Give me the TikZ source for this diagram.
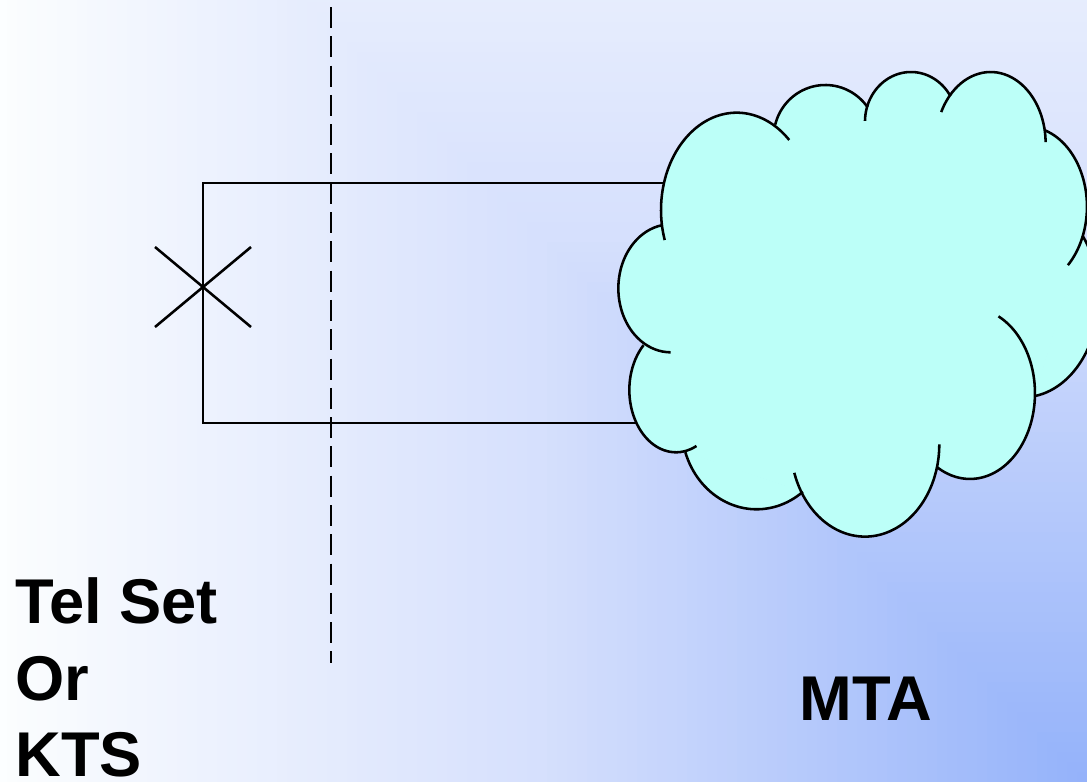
\documentclass[tikz,border=0pt]{standalone}
\usepackage{fontspec}
\setmainfont{Liberation Sans}
\definecolor{cloudcyan}{RGB}{188,255,248}
\tikzset{
 wire/.style={black, line width=1.45pt},
 biglabel/.style={anchor=base west, inner sep=0, font=\fontsize{36}{44}\selectfont\bfseries},
}
\newcommand{\cloudlobes}[1]{
 \foreach \cx/\cy/\rx/\ry/\aa/\ab in {410/480/227/292/314/162, 676/262/155/157/194/325, 933/215/138/149/181/329,
   1172/280/165/214/206/359, 1281/470/180/240/288/407, 1269/742/227/300/322/441, 1110/1030/195/257/296/481,
   795/1183/223/277/0/162, 470/1130/225/248/52/162, 228/1020/140/187/64/226, 212/715/157/192/90/260} {
  \path[#1] plot[domain=\aa:\ab, samples=40, smooth] ({\cx+\rx*cos(\x)},{\cy+\ry*sin(\x)});
 }
}
\begin{document}
\begin{tikzpicture}[x=0.02cm, y=-0.02cm]
\useasboundingbox (0,0) rectangle (1087,782);
\clip (0,0) rectangle (1087,782);
% background bands round the lower right corner
\foreach \d in {1090,1080,...,10} {
 \pgfmathsetmacro{\lowt}{min(\d/550,1)}
 \pgfmathsetmacro{\hight}{max((\d-550)/540,0)}
 \pgfmathtruncatemacro{\bandr}{148+66*\lowt+38*\hight}
 \pgfmathtruncatemacro{\bandg}{178+46*\lowt+30*\hight}
 \pgfmathtruncatemacro{\bandb}{250+3*\lowt+2*\hight}
 \definecolor{bandcol}{RGB}{\bandr,\bandg,\bandb}
 \fill[bandcol] (1087-\d,782-\d) rectangle (1087,782);
}
\coordinate (topleft) at (203,183);
\coordinate (botleft) at (203,423);
\coordinate (topright) at (670,183);
\coordinate (botright) at (640,423);
\coordinate (crossA) at (155,247);
\coordinate (crossB) at (251,327);
\coordinate (crossC) at (155,327);
\coordinate (crossD) at (251,247);
\coordinate (dashtop) at (331,7);
\coordinate (dashbot) at (331,663);
\draw[wire] (topright) -- (topleft) -- (botleft) -- (botright);
\draw[wire] (crossA) -- (crossB);
\draw[wire] (crossC) -- (crossD);
\draw[wire, dash pattern=on 0.42cm off 0.166cm] (dashtop) -- (dashbot);
\begin{scope}[shift={(600,50)}, scale=0.3333]
\filldraw[cloudcyan, line width=0.5pt] (525,225) -- (803,170) -- (1050,138) -- (1337,243) -- (1450,560) -- (1305,1035) -- (1010,1250) -- (605,1325) -- (250,1205) -- (130,883) -- (185,530) -- cycle;
\cloudlobes{fill=cloudcyan, draw=cloudcyan, line width=0.5pt}
\cloudlobes{draw=black, line width=1.45pt}
\end{scope}
\node[biglabel] (telset) at (15,623) {Tel Set};
\node[biglabel] (orlabel) at (15,700) {Or};
\node[biglabel] (kts) at (15,776) {KTS};
\node[biglabel] (mta) at (799,720) {MTA};
\end{tikzpicture}
\end{document}
